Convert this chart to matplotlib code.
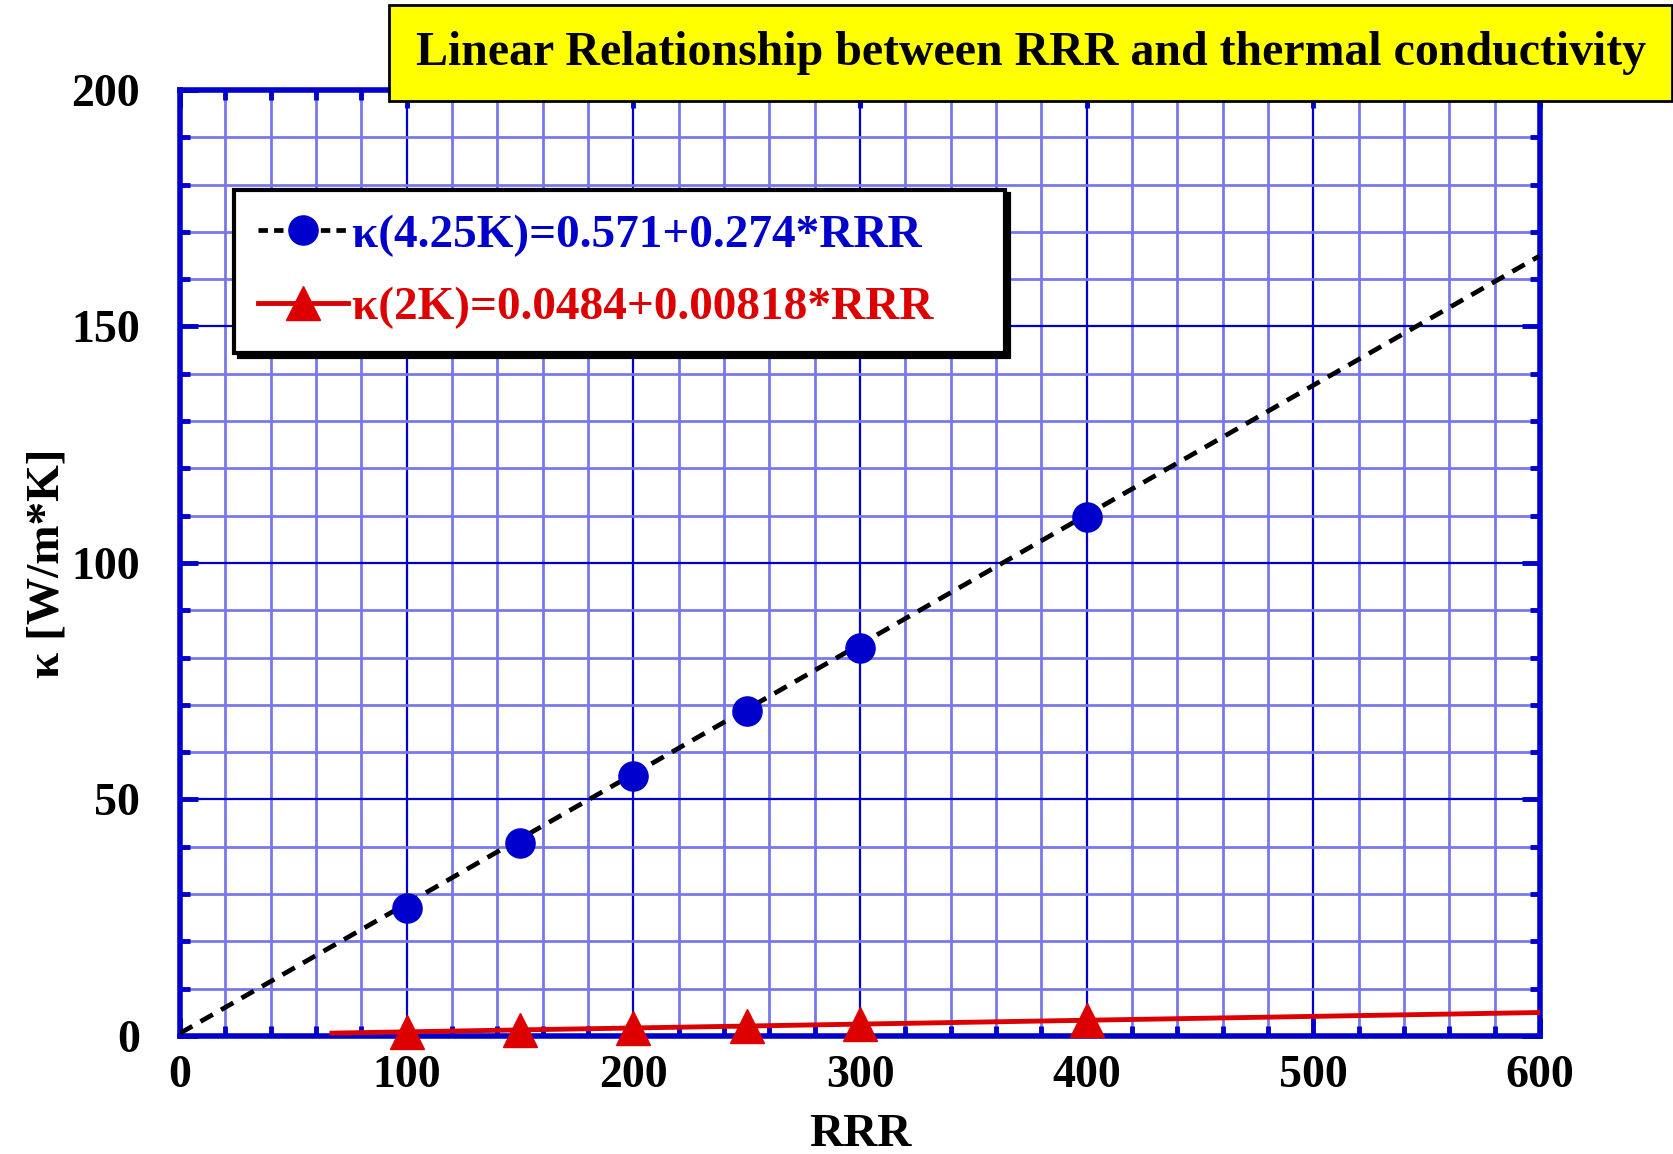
import matplotlib
matplotlib.use('Agg')
import matplotlib.pyplot as plt
from matplotlib.ticker import MultipleLocator
import numpy as np

# measured points
rrr = [100, 150, 200, 250, 300, 400]
k_425 = [27.1, 40.9, 54.9, 68.7, 82.0, 109.8]
k_2 = [0.87, 1.28, 1.68, 2.09, 2.50, 3.32]

# linear fits drawn over the plot
fit_425 = (0.571, 0.274)
fit_2 = (0.0484, 0.00818)
fit_425_x = [0, 600]
fit_2_x = [67, 600]

blue = '#0000cc'
red = '#dd0000'
plt.rcParams['font.family'] = ['Liberation Serif', 'DejaVu Serif']
plt.rcParams['font.weight'] = 'bold'

fig = plt.figure(figsize=(16.73, 11.54), dpi=100)
ax = fig.add_axes([0.1076, 0.1023, 0.8129, 0.8197])

x1 = np.array(fit_425_x)
x2 = np.array(fit_2_x)
ax.plot(x1, fit_425[0] + fit_425[1] * x1, color='black', ls=(0, (3, 2.0)), lw=3.4, zorder=3)
ax.plot(x2, fit_2[0] + fit_2[1] * x2, color=red, lw=3.5, zorder=3)
ax.plot(rrr, k_425, 'o', color=blue, ms=21, zorder=4, clip_on=False)
ax.plot(rrr, k_2, '^', color=red, ms=25, zorder=4, clip_on=False)

ax.set_xlim(0, 600)
ax.set_ylim(0, 200)
ax.xaxis.set_major_locator(MultipleLocator(100))
ax.xaxis.set_minor_locator(MultipleLocator(20))
ax.yaxis.set_major_locator(MultipleLocator(50))
ax.yaxis.set_minor_locator(MultipleLocator(10))
ax.grid(which='minor', color='#7878ec', lw=2, zorder=0)
ax.grid(which='major', color=blue, lw=1.6, zorder=1)
ax.set_axisbelow(True)
for s in ax.spines.values():
    s.set_color(blue)
    s.set_linewidth(4)
ax.tick_params(which='both', direction='in', top=True, right=True, color=blue,
               labelsize=33)
ax.tick_params(axis='x', pad=14)
ax.tick_params(axis='y', pad=29)
ax.tick_params(which='major', length=13, width=3.5)
ax.tick_params(which='minor', length=7, width=3.5)
for lab in ax.get_xticklabels() + ax.get_yticklabels():
    lab.set_fontweight('bold')

ax.set_xlabel('RRR', fontsize=34, fontweight='bold', labelpad=12)
ax.set_ylabel('κ [W/m*K]', fontsize=34, fontweight='bold', labelpad=2)

h1, = ax.plot([], [], color='black', ls=(0, (2, 1.3)), lw=3.4, marker='o',
              mfc=blue, mec=blue, ms=21)
h2, = ax.plot([], [], color=red, lw=3.5, marker='^', ms=25)
leg = ax.legend([h1, h2], ['κ(4.25K)=0.571+0.274*RRR    ', 'κ(2K)=0.0484+0.00818*RRR    '],
                loc='upper left', bbox_to_anchor=(0.040, 0.894), borderaxespad=0,
                prop={'weight': 'bold', 'size': 34}, handlelength=1.9,
                handletextpad=0.1, fancybox=False, edgecolor='black', framealpha=1,
                borderpad=0.5, labelspacing=0.62,
                shadow={'ox': 3, 'oy': -3, 'color': 'black', 'alpha': 1})
leg.get_frame().set_linewidth(3)
for t, c in zip(leg.get_texts(), [blue, red]):
    t.set_color(c)

fig.text(0.616, 0.954, 'Linear Relationship between RRR and thermal conductivity',
         ha='center', va='center', fontsize=34.5, fontweight='bold', zorder=10,
         bbox=dict(boxstyle='square,pad=0.55', fc='#ffff00', ec='black', lw=2))

fig.savefig('out.png', dpi=100)
